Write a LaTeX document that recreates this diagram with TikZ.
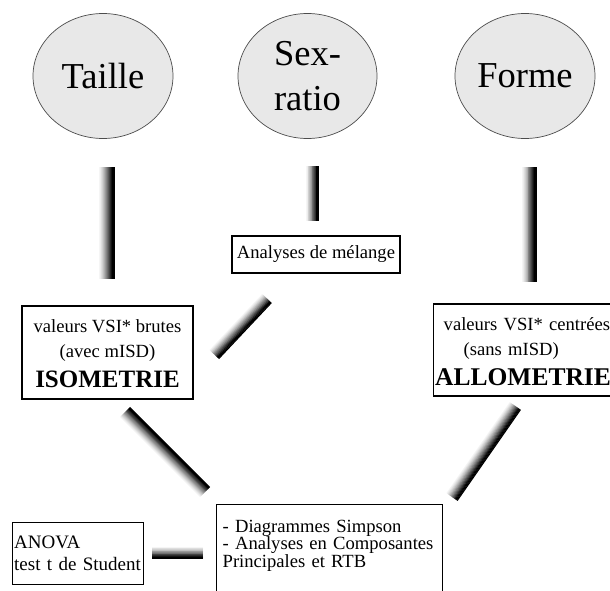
\documentclass[tikz,border=0pt]{standalone}
\usepackage{fontspec}
\setmainfont{Liberation Serif}
\usetikzlibrary{positioning,shapes.geometric,calc}

% shaded bar between two named points (#1 = bar thickness),
% built from thin strips, light on the right-hand side, black on the left-hand side
\newcommand{\gradbar}[3][14]{%
  \foreach \k in {0,...,15}{%
    \pgfmathsetmacro\barofs{#1*(\k+0.5)/16-#1/2}%
    \pgfmathsetmacro\bartone{min(100,4+118*(\k/15)^1.3)}%
    \draw[black!\bartone, line width=#1/16+0.25] ($(#2)!\barofs pt!90:(#3)$) -- ($(#3)!\barofs pt!-90:(#2)$);}}

\begin{document}
\begin{tikzpicture}[
  x=1pt, y=-1pt,
  circ/.style={ellipse, draw=black!70, fill=black!9, line width=0.7pt, inner sep=0pt,
               minimum width=140, minimum height=125, align=center,
               font=\fontsize{36.5}{45}\selectfont},
  box/.style={draw=black, line width=1.4pt, inner sep=0pt,
              font=\fontsize{18.6}{25}\selectfont},
]
\useasboundingbox (0,0) rectangle (610,590);
\clip (0,0) rectangle (610,590);

% ================= the three factors =================
\node[circ] (taille) at (103,76) {Taille};
\node[circ, minimum width=139] (sexratio) at (307.5,76) {Sex-\\ratio};
\node[circ] (forme) at (525,76) {Forme};

% ================= methods =================
\node[box, minimum width=168, minimum height=37] (melange) at (316,254.5) {Analyses de mélange};

\node[box, minimum width=171, minimum height=93, align=center] (iso) at (107.5,352.5)
     {\rule{0pt}{15.7pt}valeurs VSI* brutes\\(avec mISD)\\[5pt]%
      {\fontsize{25}{30}\selectfont\bfseries ISOMETRIE}};

\node[box, anchor=west, text width=180, minimum height=92, inner xsep=1.5, align=left] (allo) at (433,350)
     {\hspace*{8.5pt}\rule{0pt}{17pt}valeurs VSI* centrées\\
      \hspace*{28.5pt}(sans mISD)\\[5pt]
      {\fontsize{25.5}{30}\selectfont\bfseries ALLOMETRIE}};

\node[box, anchor=north west, text width=214, inner xsep=6, inner ysep=15, align=left,
      font=\fontsize{18.6}{17.5}\selectfont] (analyses) at (216,504)
     {- Diagrammes Simpson\\- Analyses en Composantes\\Principales et RTB\rule[-30pt]{0pt}{0pt}};

\node[box, anchor=north west, text width=128, inner xsep=1.5, inner ysep=13.4, align=left,
      font=\fontsize{19}{22}\selectfont] (anova) at (12,522)
     {ANOVA\\test t de Student};

% ================= bar ends =================
\coordinate (tA) at (107,167);   \coordinate (tB) at (107,279);
\coordinate (sA) at (312.5,166); \coordinate (sB) at (312.5,221);
\coordinate (fA) at (529.5,167); \coordinate (fB) at (529.5,282);
\coordinate (mA) at (267,298.5); \coordinate (mB) at (214.3,354.5);
\coordinate (iA) at (125,412);   \coordinate (iB) at (205,492);
\coordinate (aA) at (515.3,406); \coordinate (aB) at (452,497);
\coordinate (nA) at (203,553);   \coordinate (nB) at (152,553);

% ================= shaded bars =================
\gradbar[16]{tA}{tB}
\gradbar[13]{sA}{sB}
\gradbar[15]{fA}{fB}
\gradbar[13]{mA}{mB}
\gradbar[14]{iA}{iB}
\gradbar[13.5]{aA}{aB}
\gradbar[12]{nA}{nB}
\end{tikzpicture}
\end{document}
